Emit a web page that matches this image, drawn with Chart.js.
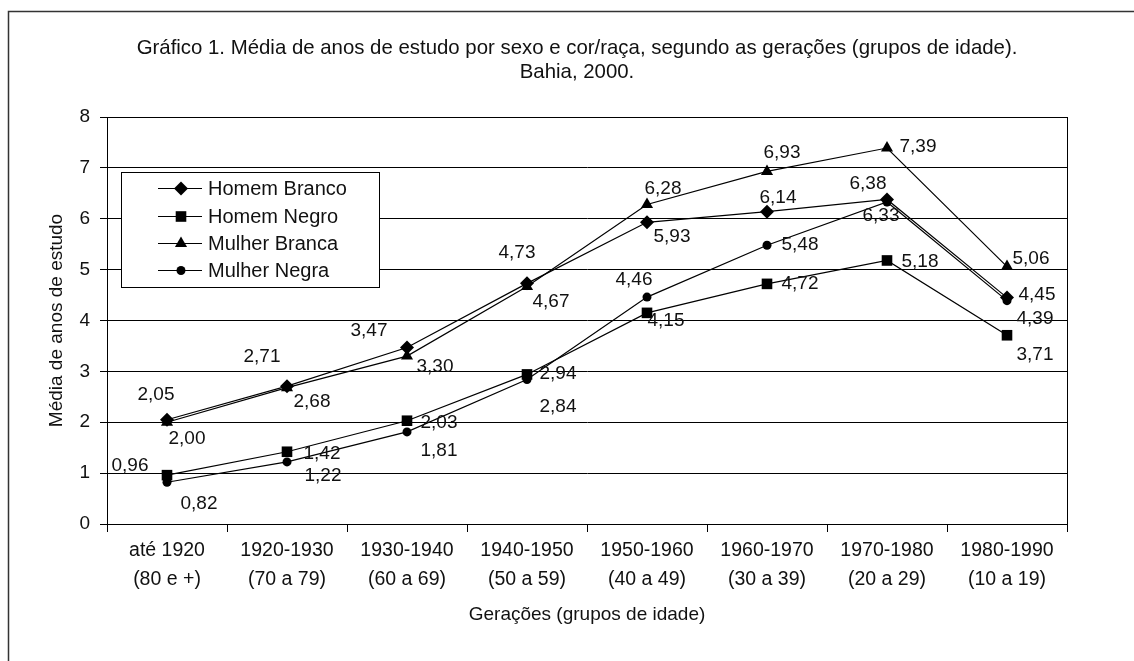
<!DOCTYPE html>
<html><head><meta charset="utf-8">
<script src="https://cdn.jsdelivr.net/npm/chart.js@4/dist/chart.umd.min.js"></script>
<style>html,body{margin:0;padding:0;background:#fff;overflow:hidden;}</style>
</head><body>
<canvas id="c" width="1134" height="661"></canvas>
<script>
// ---- data ----
const categories = [
  ["até 1920", "(80 e +)"],
  ["1920-1930", "(70 a 79)"],
  ["1930-1940", "(60 a 69)"],
  ["1940-1950", "(50 a 59)"],
  ["1950-1960", "(40 a 49)"],
  ["1960-1970", "(30 a 39)"],
  ["1970-1980", "(20 a 29)"],
  ["1980-1990", "(10 a 19)"]
];
const seriesNames = ["Homem Branco", "Homem Negro", "Mulher Branca", "Mulher Negra"];
const homemBranco  = [2.05, 2.71, 3.47, 4.73, 5.93, 6.14, 6.38, 4.45];
const homemNegro   = [0.96, 1.42, 2.03, 2.94, 4.15, 4.72, 5.18, 3.71];
const mulherBranca = [2.00, 2.68, 3.30, 4.67, 6.28, 6.93, 7.39, 5.06];
const mulherNegra  = [0.82, 1.22, 1.81, 2.84, 4.46, 5.48, 6.33, 4.39];
const yMin = 0, yMax = 8, yStep = 1;
const titleLines = ["Gráfico 1. Média de anos de estudo por sexo e cor/raça, segundo as gerações (grupos de idade).", "Bahia, 2000."];
const xTitle = "Gerações (grupos de idade)";
const yTitle = "Média de anos de estudo";

// ---- styles (not data) ----
const FONT = '"Liberation Sans", Arial, sans-serif';
const FS = 19;
const markerStyles = [
  {pointStyle: 'rectRot', radius: 7},
  {pointStyle: 'rect', radius: 7.5},
  {pointStyle: 'triangle', radius: 7},
  {pointStyle: 'circle', radius: 4.5}
];
// label offsets in px relative to each marker
const labelOffsets = [
  [[-11,-25],[-25,-29],[-38,-17],[-10,-31],[25,14],[11,-14],[-19,-16],[30,-3]],
  [[-37,-9],[35,2],[32,2],[31,-1],[19,8],[33,0],[33,1],[28,20]],
  [[20,17],[25,14],[28,11],[24,15],[16,-16],[15,-19],[31,-1],[24,-8]],
  [[32,21],[36,14],[32,19],[31,27],[-13,-17],[33,0],[-6,14],[28,18]]
];

const seriesValues = [homemBranco, homemNegro, mulherBranca, mulherNegra];
const datasets = seriesValues.map((vals, i) => ({
  label: seriesNames[i],
  data: vals,
  borderColor: '#000',
  backgroundColor: '#000',
  borderWidth: 1.2,
  pointStyle: markerStyles[i].pointStyle,
  pointRadius: markerStyles[i].radius,
  pointBorderWidth: 0,
  pointBackgroundColor: '#000',
  pointBorderColor: '#000',
  tension: 0,
  clip: false
}));

function fmt(v) { return v.toFixed(2).replace('.', ','); }

function drawMarker(ctx, style, r, x, y) {
  ctx.beginPath();
  if (style === 'rectRot') {
    ctx.moveTo(x, y - r); ctx.lineTo(x + r, y); ctx.lineTo(x, y + r); ctx.lineTo(x - r, y);
  } else if (style === 'rect') {
    const s = r * Math.SQRT1_2;
    ctx.rect(x - s, y - s, 2 * s, 2 * s);
  } else if (style === 'triangle') {
    ctx.moveTo(x, y - r);
    ctx.lineTo(x + r * Math.sin(Math.PI * 2 / 3), y - r * Math.cos(Math.PI * 2 / 3));
    ctx.lineTo(x - r * Math.sin(Math.PI * 2 / 3), y - r * Math.cos(Math.PI * 2 / 3));
  } else {
    ctx.arc(x, y, r, 0, Math.PI * 2);
  }
  ctx.closePath();
  ctx.fill();
}

const decorPlugin = {
  id: 'decor',
  beforeDraw(chart) {
    const ctx = chart.ctx;
    ctx.save();
    ctx.fillStyle = '#fff';
    ctx.fillRect(0, 0, chart.width, chart.height);
    ctx.strokeStyle = '#333';
    ctx.lineWidth = 1.5;
    ctx.strokeRect(8.5, 11.5, 1300, 800);
    ctx.restore();
  },
  afterDraw(chart) {
    const ctx = chart.ctx;
    const a = chart.chartArea;
    ctx.save();
    // plot border
    ctx.strokeStyle = '#000';
    ctx.lineWidth = 1;
    ctx.strokeRect(Math.round(a.left) + 0.5, Math.round(a.top) + 0.5, Math.round(a.right - a.left), Math.round(a.bottom - a.top));
    ctx.fillStyle = '#111';
    ctx.textAlign = 'center';
    ctx.textBaseline = 'middle';
    // title
    ctx.font = '20.4px ' + FONT;
    ctx.fillText(titleLines[0], 577, 48);
    ctx.fillText(titleLines[1], 577, 72);
    // x title
    ctx.font = FS + 'px ' + FONT;
    ctx.fillText(xTitle, (a.left + a.right) / 2, 615);
    // y title
    ctx.save();
    ctx.translate(57, (a.top + a.bottom) / 2);
    ctx.rotate(-Math.PI / 2);
    ctx.fillText(yTitle, 0, 0);
    ctx.restore();
    // data labels
    chart.data.datasets.forEach((ds, i) => {
      const meta = chart.getDatasetMeta(i);
      meta.data.forEach((pt, j) => {
        const off = labelOffsets[i][j];
        ctx.fillText(fmt(ds.data[j]), pt.x + off[0], pt.y + off[1]);
      });
    });
    // legend
    const lx = 121, ly = 172, lw = 258, lh = 115;
    ctx.fillStyle = '#fff';
    ctx.fillRect(lx, ly, lw, lh);
    ctx.strokeStyle = '#000';
    ctx.lineWidth = 1;
    ctx.strokeRect(lx + 0.5, ly + 0.5, lw, lh);
    const rows = [188, 216, 243, 270];
    ctx.font = '20px ' + FONT;
    chart.data.datasets.forEach((ds, i) => {
      const y = rows[i];
      ctx.strokeStyle = '#000';
      ctx.lineWidth = 1.2;
      ctx.beginPath();
      ctx.moveTo(158, y + 0.5); ctx.lineTo(202, y + 0.5);
      ctx.stroke();
      ctx.fillStyle = '#000';
      drawMarker(ctx, markerStyles[i].pointStyle, markerStyles[i].radius, 181, y + 0.5);
      ctx.fillStyle = '#111';
      ctx.textAlign = 'left';
      ctx.fillText(ds.label, 208, y + 1);
    });
    ctx.restore();
  }
};

new Chart(document.getElementById('c'), {
  type: 'line',
  data: { labels: categories, datasets: datasets },
  options: {
    responsive: false,
    animation: false,
    devicePixelRatio: 1,
    layout: { padding: { top: 117, right: 67, bottom: 0, left: 0 } },
    plugins: { legend: { display: false }, title: { display: false }, tooltip: { enabled: false } },
    scales: {
      x: {
        offset: true,
        grid: { offset: true, drawOnChartArea: false, color: '#000', tickLength: 8, lineWidth: 1 },
        border: { color: '#000', width: 1 },
        ticks: { color: '#111', font: { family: FONT, size: 19.5, lineHeight: 1.5 }, padding: 4, maxRotation: 0, autoSkip: false },
        afterFit(s) { s.height = 137; }
      },
      y: {
        min: yMin, max: yMax,
        grid: { color: '#000', tickLength: 7, lineWidth: 1 },
        border: { color: '#000', width: 1 },
        ticks: { stepSize: yStep, color: '#111', font: { family: FONT, size: FS }, padding: 10 },
        afterFit(s) { s.width = 107; }
      }
    }
  },
  plugins: [decorPlugin]
});
</script>
</body></html>
